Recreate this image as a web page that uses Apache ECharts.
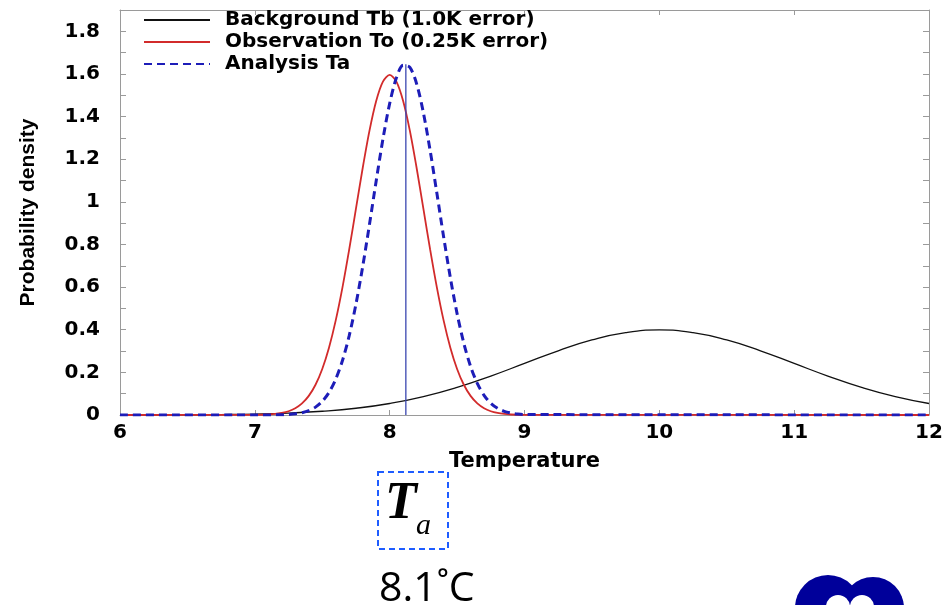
<!DOCTYPE html>
<html>
<head>
<meta charset="utf-8">
<script src="https://cdn.jsdelivr.net/npm/echarts@6/dist/echarts.min.js"></script>
<style>
html,body{margin:0;padding:0;background:#fff;}
#chart{width:947px;height:605px;}
</style>
</head>
<body>
<div id="chart"></div>
<script>
// ---- data ----
var seriesNames = ['Background Tb (1.0K error)', 'Observation To (0.25K error)', 'Analysis Ta'];

var bgX = [6,6.25,6.5,6.75,7,7.25,7.5,7.75,8,8.25,8.5,8.75,9,9.25,9.5,9.75,10,10.25,10.5,10.75,11,11.25,11.5,11.75,12];
var bgY = [0.0001,0.0004,0.0009,0.0020,0.0044,0.0091,0.0175,0.0317,0.0540,0.0863,0.1295,0.1827,0.2420,0.3011,0.3521,0.3867,0.3989,0.3867,0.3521,0.3011,0.2420,0.1827,0.1295,0.0863,0.0540];

var peakX = [6,7.00,7.05,7.10,7.15,7.20,7.25,7.30,7.35,7.40,7.45,7.50,7.55,7.60,7.65,7.70,7.75,7.80,7.85,7.90,7.95,8.00,8.05,8.10,8.15,8.20,8.25,8.30,8.35,8.40,8.45,8.50,8.55,8.60,8.65,8.70,8.75,8.80,8.85,8.90,8.95,9.00,12];
var obsY = [0,0.0005,0.0012,0.0024,0.0049,0.0095,0.0177,0.0317,0.0543,0.0896,0.1419,0.2160,0.3158,0.4437,0.5989,0.7768,0.9679,1.1588,1.3329,1.4731,1.5642,1.5958,1.5642,1.4731,1.3329,1.1588,0.9679,0.7768,0.5989,0.4437,0.3158,0.2160,0.1419,0.0896,0.0543,0.0317,0.0177,0.0095,0.0049,0.0024,0.0012,0.0005,0];
var anaY = [0,0.0000,0.0001,0.0002,0.0006,0.0013,0.0027,0.0056,0.0109,0.0205,0.0370,0.0640,0.1059,0.1681,0.2556,0.3722,0.5203,0.6963,0.8932,1.0982,1.2940,1.4613,1.5817,1.6405,1.6307,1.5536,1.4185,1.2413,1.0410,0.8366,0.6445,0.4757,0.3366,0.2282,0.1483,0.0923,0.0551,0.0315,0.0173,0.0091,0.0046,0.0022,0];

var markerX = [8.12, 8.12];
var markerY = [0, 1.645];

var xTickLabels = ['6','7','8','9','10','11','12'];
var yTickLabels = ['0','0.2','0.4','0.6','0.8','1','1.2','1.4','1.6','1.8'];

var annotationSymbol = 'T';
var annotationSub = 'a';
var annotationValue = '8.1˚C';

function zip(xs, ys){ var o=[]; for (var i=0;i<xs.length;i++) o.push([xs[i], ys[i]]); return o; }

var chart = echarts.init(document.getElementById('chart'), null, {renderer:'canvas'});
var frame = '#9a9a9a';
var tickFont = {fontFamily:'DejaVu Sans', fontWeight:'bold', fontSize:20, color:'#000'};

function yLabel(v){
  var k = Math.round(v*10);
  if (k % 2 !== 0 || k > 18) return '';
  return yTickLabels[k/2];
}
function xLabel(v){
  var k = Math.round(v) - 6;
  return xTickLabels[k] !== undefined ? xTickLabels[k] : '';
}

var option = {
  backgroundColor:'#fff',
  animation:false,
  grid:{left:120, right:18, top:10, bottom:190},
  legend:{
    orient:'vertical', left:143, top:10, padding:0,
    itemWidth:66, itemHeight:12, itemGap:2,
    itemStyle:{opacity:0},
    data:seriesNames,
    textStyle:{fontFamily:'DejaVu Sans', fontWeight:'bold', fontSize:20, color:'#000', lineHeight:20, padding:[0,0,0,10]}
  },
  xAxis:[
    {type:'value', position:'bottom', min:6, max:12, interval:1,
     name:'Temperature', nameLocation:'middle', nameGap:36,
     nameTextStyle:{fontFamily:'DejaVu Sans', fontWeight:'bold', fontSize:21, color:'#000'},
     axisLine:{show:true, onZero:false, lineStyle:{color:frame, width:1}},
     axisTick:{show:true, inside:true, length:5, lineStyle:{color:frame}},
     axisLabel:Object.assign({margin:8, formatter:xLabel}, tickFont),
     splitLine:{show:false}},
    {type:'value', position:'top', min:6, max:12, interval:1,
     axisLine:{show:true, onZero:false, lineStyle:{color:frame, width:1}},
     axisTick:{show:true, inside:true, length:5, lineStyle:{color:frame}},
     axisLabel:{show:false}, splitLine:{show:false}}
  ],
  yAxis:[
    {type:'value', position:'left', min:0, max:1.9, interval:0.1,
     name:'Probability density', nameLocation:'middle', nameGap:81, nameRotate:90,
     nameTextStyle:{fontFamily:'Liberation Sans', fontWeight:'bold', fontSize:21, color:'#000'},
     axisLine:{show:true, onZero:false, lineStyle:{color:frame, width:1}},
     axisTick:{show:true, inside:true, length:6, lineStyle:{color:frame}},
     axisLabel:Object.assign({margin:20, formatter:yLabel, showMaxLabel:false}, tickFont),
     splitLine:{show:false}},
    {type:'value', position:'right', min:0, max:1.9, interval:0.1,
     axisLine:{show:true, onZero:false, lineStyle:{color:frame, width:1}},
     axisTick:{show:true, inside:true, length:6, lineStyle:{color:frame}},
     axisLabel:{show:false}, splitLine:{show:false}}
  ],
  series:[
    {name:seriesNames[0], type:'line', data:zip(bgX,bgY), smooth:true, showSymbol:false, symbol:'none',
     lineStyle:{color:'#111', width:1.3}, itemStyle:{color:'#111'}},
    {name:seriesNames[1], type:'line', data:zip(peakX,obsY), smooth:0.3, showSymbol:false, symbol:'none',
     lineStyle:{color:'#d22b2b', width:1.8}, itemStyle:{color:'#d22b2b'}},
    {name:seriesNames[2], type:'line', data:zip(peakX,anaY), smooth:0.3, showSymbol:false, symbol:'none',
     lineStyle:{color:'#1d1db8', width:3, type:[8,5]}, itemStyle:{color:'#1d1db8'}},
    {name:'marker', type:'line', data:zip(markerX,markerY), showSymbol:false, symbol:'none',
     lineStyle:{color:'#3a46b0', width:1.3}, itemStyle:{color:'#3a46b0'}, silent:true}
  ],
  graphic:[
    {type:'rect', shape:{x:378, y:472, width:70, height:77},
     style:{fill:'none', stroke:'#1f5cff', lineWidth:2, lineDash:[6,4]}},
    {type:'text', x:385, y:505, style:{text:annotationSymbol, font:'italic bold 52px "Liberation Serif"', fill:'#000', verticalAlign:'middle'}},
    {type:'text', x:416, y:526, style:{text:annotationSub, font:'italic 30px "Liberation Serif"', fill:'#000', verticalAlign:'middle'}},
    {type:'text', x:379, y:589, style:{text:annotationValue, font:'41px "Open Sans"', fill:'#000', verticalAlign:'middle'}},
    {type:'group', children:[
      {type:'circle', shape:{cx:828, cy:608, r:33}, style:{fill:'#00009a'}},
      {type:'circle', shape:{cx:873, cy:608, r:31}, style:{fill:'#00009a'}},
      {type:'circle', shape:{cx:838, cy:607, r:12}, style:{fill:'#fff'}},
      {type:'circle', shape:{cx:862, cy:607, r:12}, style:{fill:'#fff'}}
    ]}
  ]
};
chart.setOption(option);
</script>
</body>
</html>
